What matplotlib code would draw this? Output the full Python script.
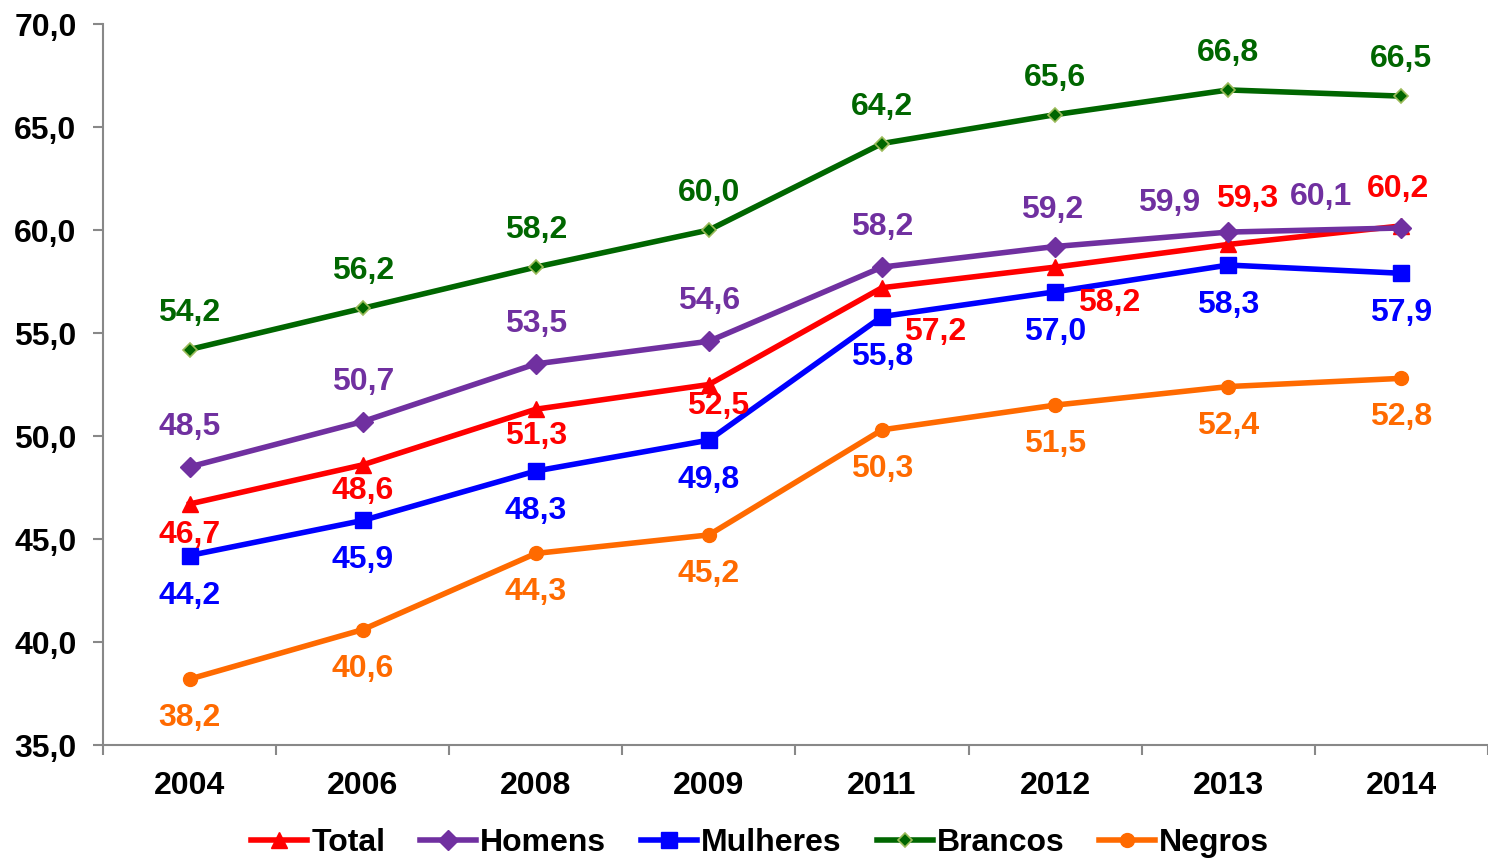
import matplotlib.pyplot as plt
import numpy as np

plt.rcParams['font.family'] = ['Liberation Sans', 'DejaVu Sans']
plt.rcParams['font.weight'] = 'bold'

anos = ['2004', '2006', '2008', '2009', '2011', '2012', '2013', '2014']
total = [46.7, 48.6, 51.3, 52.5, 57.2, 58.2, 59.3, 60.2]
homens = [48.5, 50.7, 53.5, 54.6, 58.2, 59.2, 59.9, 60.1]
mulheres = [44.2, 45.9, 48.3, 49.8, 55.8, 57.0, 58.3, 57.9]
brancos = [54.2, 56.2, 58.2, 60.0, 64.2, 65.6, 66.8, 66.5]
negros = [38.2, 40.6, 44.3, 45.2, 50.3, 51.5, 52.4, 52.8]

# label offsets in pixels (dx, dy) for each point
off_total = [(0, -31), (0, -26), (0, -27), (9, -21), (53, -44), (54, -36), (19, 45), (-3, 37)]
off_homens = [(0, 40)] * 5 + [(-3, 37), (-59, 29), (-80, 31)]
off_mulheres = [(0, -40)] * 8
off_brancos = [(0, 37)] * 8
off_negros = [(0, -39)] * 8

x = np.arange(len(anos))

fig = plt.figure(figsize=(14.88, 8.61), dpi=100)
ax = fig.add_axes([0.0692, 0.1347, 0.9308, 0.8374])

series = [
    ('Total', total, '#FF0000', dict(marker='^', markersize=11, markerfacecolor='#FF0000', markeredgecolor='#FF0000'), off_total),
    ('Homens', homens, '#7030A0', dict(marker='D', markersize=10, markerfacecolor='#7030A0', markeredgecolor='#7030A0'), off_homens),
    ('Mulheres', mulheres, '#0000FF', dict(marker='s', markersize=11, markerfacecolor='#0000FF', markeredgecolor='#0000FF'), off_mulheres),
    ('Brancos', brancos, '#006600', dict(marker='D', markersize=7, markerfacecolor='#006600', markeredgecolor='#9BBB59', markeredgewidth=1.2), off_brancos),
    ('Negros', negros, '#FF6A00', dict(marker='o', markersize=10, markerfacecolor='#FF6A00', markeredgecolor='#FF6A00'), off_negros),
]

for name, vals, col, mk, offs in series:
    ax.plot(x, vals, color=col, lw=4, label=name, **mk)
    for xi, v, (dx, dy) in zip(x, vals, offs):
        ax.annotate(f'{v:.1f}'.replace('.', ','), (xi, v), xytext=(dx, dy),
                    textcoords='offset pixels', ha='center', va='center',
                    fontsize=23, fontweight='bold', color=col)

ax.set_xlim(-0.5, 7.5)
ax.set_ylim(35, 70)
ax.set_yticks(np.arange(35, 71, 5))
ax.set_yticklabels([f'{t:.1f}'.replace('.', ',') for t in np.arange(35, 71, 5)])
ax.set_xticks(x)
ax.set_xticklabels(anos)
ax.set_xticks(np.arange(-0.5, 8, 1), minor=True)
ax.tick_params(axis='x', which='major', length=0, pad=19, labelsize=23)
ax.tick_params(axis='x', which='minor', length=7, color='#888888', width=1.5)
ax.tick_params(axis='y', length=7, color='#888888', width=1.5, pad=12, labelsize=23)

for s in ['top', 'right']:
    ax.spines[s].set_visible(False)
for s in ['left', 'bottom']:
    ax.spines[s].set_color('#888888')
    ax.spines[s].set_linewidth(1.5)

fig.legend(loc='center', bbox_to_anchor=(0.511, 0.021), ncol=5, frameon=False,
           fontsize=23, handlelength=1.75, handletextpad=0.12, columnspacing=1.1,
           borderaxespad=0, borderpad=0)

fig.savefig('out.png', dpi=100)
